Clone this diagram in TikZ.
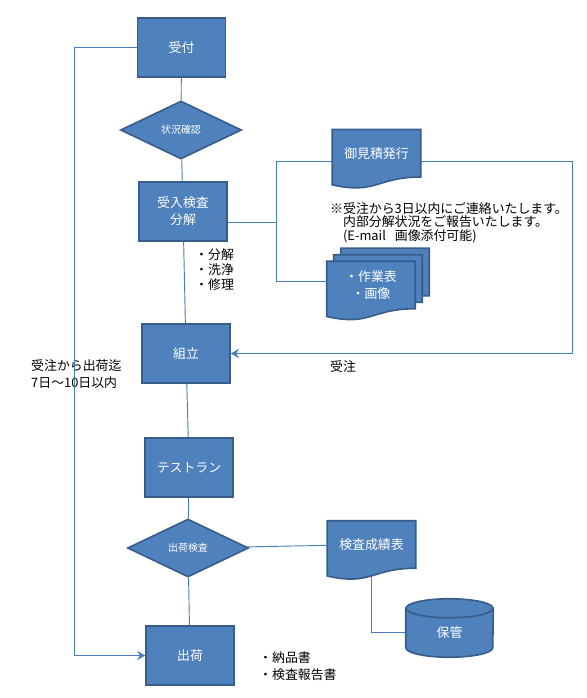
\documentclass[tikz,border=0pt]{standalone}
\usepackage{fontspec}
\setmainfont{Noto Sans CJK JP}
\usepackage{tikz}
\usetikzlibrary{positioning,shapes.geometric,arrows.meta,calc,backgrounds}
\definecolor{flowblue}{HTML}{4F81BD}
\definecolor{flowedge}{HTML}{385D8A}
\definecolor{linkblue}{HTML}{4A7EBB}

\begin{document}
\begin{tikzpicture}[
    x=0.03cm, y=-0.03cm,
    every node/.style={font=\fontsize{11}{13}\selectfont},
    box/.style={draw=flowedge, fill=flowblue, text=white, line width=1.4pt,
                minimum width=2.64cm, minimum height=1.77cm, align=center},
    decision/.style={diamond, draw=flowedge, fill=flowblue, text=white, line width=1.4pt,
                     minimum width=3.63cm, minimum height=1.74cm, inner sep=0pt, aspect=2.1,
                     font=\fontsize{8.5}{10}\selectfont},
    doc/.style={text=white, minimum width=2.64cm, minimum height=1.41cm, align=center},
    docshape/.style={draw=flowedge, fill=flowblue, line width=1.4pt},
    conn/.style={draw=linkblue, line width=0.8pt},
    arr/.style={conn, -{Stealth[length=7pt, width=8pt, inset=2.5pt]}},
    note/.style={align=left, inner sep=0pt}
]
    \useasboundingbox (0,0) rectangle (587,698);

    % main flow
    \node[box] (uketsuke) at (181.5,47.5) {受付};
    \node[decision] (jokyo) at (181,130) {状況確認};
    \node[box] (ukeire) at (183,211.5) {受入検査\\[1.5pt]分解};
    \node[box] (kumitate) at (186,353.5) {組立};
    \node[box] (testrun) at (189,467.5) {テストラン};
    \node[decision] (kensa) at (188,548) {出荷検査};
    \node[box] (shukka) at (190,655.5) {出荷};

    % documents and storage (outlines drawn on the background layer)
    \node[doc] (mitsumori) at (376.5,153.3) {御見積発行};
    \node[doc] (sagyo) at (371,285) {・作業表\\[2pt]・画像};
    \node[doc] (seiseki) at (371.5,544.5) {検査成績表};
    \node[doc, minimum width=2.61cm, minimum height=1.455cm] (hokan) at (449.5,632.75) {保管};

    % notes
    \node[note, anchor=west] (bunkai) at (195,269.5) {・分解\\・洗浄\\・修理};
    \node[note, anchor=west, font=\fontsize{11}{11.5}\selectfont] (chui) at (330,222.5)
        {※受注から3日以内にご連絡いたします。\\ \hspace*{1em}内部分解状況をご報告いたします。\\ \hspace*{1em}(E-mail\hspace{0.7em}画像添付可能)};
    \node[note, anchor=west, font=\fontsize{11}{15}\selectfont] (kikan) at (31,374) {受注から出荷迄\\7日～10日以内};
    \node (juchu) at (343,367) {受注};
    \node[note, anchor=west, font=\fontsize{11}{15}\selectfont] (shorui) at (259,666) {・納品書\\・検査報告書};

    \coordinate (lx) at (74,0);
    \coordinate (rx) at (572,0);
    \coordinate (jmid) at (276,222);
    \coordinate (jtop) at (276,161);
    \coordinate (jbot) at (276,281);

    \draw[conn] (uketsuke) -- (jokyo);
    \draw[conn] (jokyo) -- (ukeire);
    \draw[conn] (ukeire) -- (kumitate);
    \draw[conn] (kumitate) -- (testrun);
    \draw[conn] (testrun) -- (kensa);
    \draw[conn] (kensa) -- (shukka);
    \draw[conn] (kensa) -- (seiseki);
    \draw[arr] (uketsuke.west) -- (uketsuke.west -| lx) -- (shukka.west -| lx) -- (shukka.west);
    \draw[conn] (jmid -| ukeire.east) -- (jmid);
    \draw[conn] (jtop) -- (jbot) -- (jbot -| sagyo.west);

    \begin{scope}[on background layer]
        \draw[arr] (jtop) -- (jtop -| rx) -- (kumitate.east -| rx) -- (kumitate.east);
        \draw[conn] (seiseki) |- (hokan.west);
        \foreach \n/\dx/\dy in {mitsumori/0/0, sagyo/14/-13, sagyo/7/-6.5, sagyo/0/0, seiseki/0/0}
            \filldraw[docshape] ($(\n.north west)+(\dx,\dy)$) -- ($(\n.north east)+(\dx,\dy)$)
                -- ($(\n.south east)+(\dx,\dy)$)
                .. controls ($(\n.south)+(\dx,\dy)$) and ($(\n.south)+(\dx,\dy+17.7)$)
                .. ($(\n.south west)+(\dx,\dy+7.8)$) -- cycle;
        % cylinder
        \filldraw[docshape] (hokan.north west) -- ($(hokan.south west)+(0,-9.5)$)
            arc[start angle=180, end angle=360, x radius=1.305cm, y radius=0.285cm]
            -- (hokan.north east) -- cycle;
        \filldraw[docshape] (hokan.north) ellipse[x radius=1.305cm, y radius=0.285cm];
    \end{scope}
\end{tikzpicture}
\end{document}
